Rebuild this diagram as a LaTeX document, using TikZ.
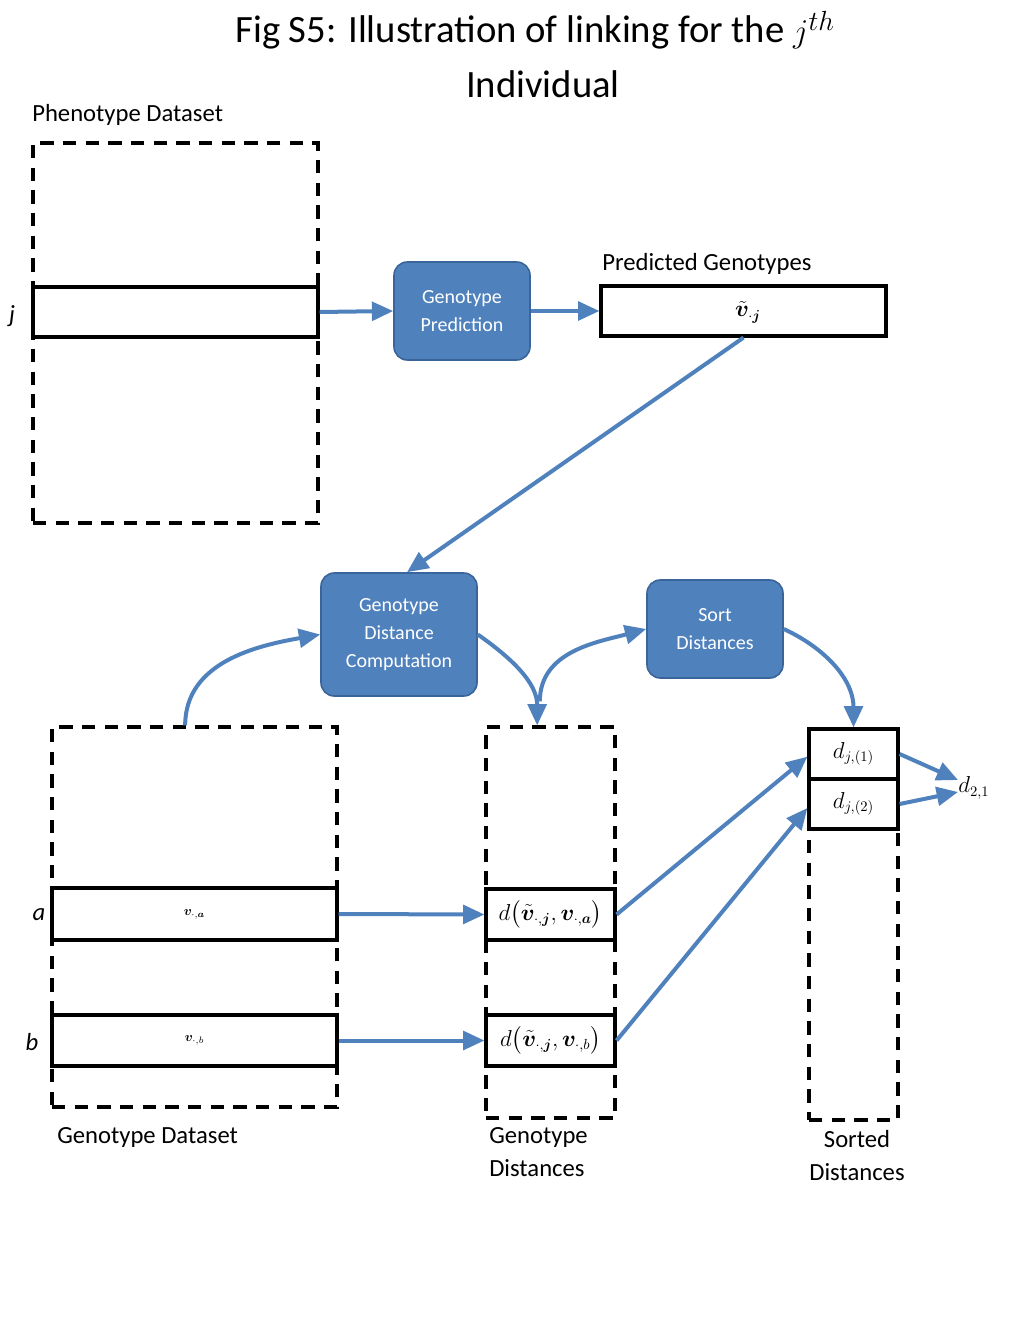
\documentclass[tikz,border=0pt]{standalone}
\usepackage{amsmath,bm}
\usepackage{fontspec}
\setmainfont{Carlito}
\usetikzlibrary{arrows.meta}
\definecolor{bl}{HTML}{4F81BD}
\definecolor{bld}{HTML}{3A659A}
\tikzset{
 bx/.style 2 args={draw, line width=2.4pt, minimum width=#1*0.75pt, minimum height=#2*0.75pt, inner sep=0pt},
 dbx/.style 2 args={draw, line width=2.4pt, dash pattern=on 10pt off 7pt, minimum width=#1*0.75pt, minimum height=#2*0.75pt, inner sep=0pt},
 proc/.style 2 args={draw=bld, line width=1.2pt, fill=bl, rounded corners=10pt, text=white, align=center, font=\fontsize{15}{21}\selectfont, minimum width=#1*0.75pt, minimum height=#2*0.75pt, inner sep=0pt},
 lab/.style={font=\fontsize{18.5}{25}\selectfont, inner sep=0pt},
 mth/.style={font=\fontsize{16}{20}\selectfont, inner sep=0pt},
 ar/.style={draw=bl, line width=3pt, -{Triangle[length=16pt,width=14pt]}},
}
\begin{document}
\begin{tikzpicture}[x=0.75pt,y=-0.75pt]
\useasboundingbox (0,0) rectangle (1024,1344);
\node[font=\fontsize{29}{36}\selectfont, inner sep=0pt] (t1) at (535,30) {Fig S5: Illustration of linking for the $j^{th}$};
\node[font=\fontsize{29}{36}\selectfont, inner sep=0pt] (t2) at (543,84) {Individual};
\node[lab, anchor=west] (phl) at (32,115) {Phenotype Dataset};
\node[dbx={285}{380}] (ph) at (175.5,333) {};
\node[bx={285}{50}] (rowj) at (175.5,312) {};
\node[lab] (jl) at (12,316) {\itshape j};
\node[proc={136}{98}] (gp) at (462,311) {Genotype\\Prediction};
\node[lab, anchor=west] (pgl) at (602,264) {Predicted Genotypes};
\node[bx={285}{50}] (pred) at (743.5,311) {};
\node[mth] (predt) at (748,312) {$\tilde{\bm v}_{\cdot\bm j}$};
\node[proc={156}{123}] (gdc) at (399,634.5) {Genotype\\Distance\\Computation};
\node[proc={136}{98}] (sort) at (715,629) {Sort\\Distances};
\node[dbx={285}{380}] (geno) at (194.5,917) {};
\node[bx={285}{52}] (ra) at (194.5,914) {$\bm v_{\cdot,\bm a}$};
\node[bx={285}{51}] (rb) at (194.5,1040.5) {$\bm v_{\cdot,b}$};
\node[lab] (al) at (39,915) {\itshape a};
\node[lab] (bl) at (32,1042) {\itshape b};
\node[lab, anchor=west] (gdl) at (57,1137) {Genotype Dataset};
\node[dbx={129}{391}] (dist) at (550.5,922.5) {};
\node[bx={129}{51}, mth] (da) at (550.5,914.5) {$d\big(\tilde{\bm v}_{\cdot,\bm j},\bm v_{\cdot,\bm a}\big)$};
\node[bx={129}{51}, mth] (db) at (550.5,1040.5) {$d\big(\tilde{\bm v}_{\cdot,\bm j},\bm v_{\cdot,b}\big)$};
\node[lab, anchor=north west, align=left, font=\fontsize{18.5}{25}\selectfont] (gdist) at (489,1127) {Genotype\\Distances};
\node[dbx={89}{391}] (sd) at (853.5,924.5) {};
\node[bx={89}{50}, mth, fill=white] (s1) at (853.5,754) {$d_{j,(1)}$};
\node[bx={89}{50}, mth, fill=white] (s2) at (853.5,804) {$d_{j,(2)}$};
\node[lab, align=center, anchor=north] (sdl) at (857,1130) {Sorted\\Distances};
\node[mth, anchor=west] (d21) at (958,788) {$d_{2,1}$};
\draw[ar] (rowj.east) -- (gp.west);
\draw[ar] (gp.east) -- (pred.west);
\draw[ar] (pred.south) -- ([xshift=6pt]gdc.north);
\draw[ar] ([xshift=-7pt]geno.north) to[out=90,in=190] (gdc.west);
\draw[ar] (gdc.east) to[out=-35,in=90] ([xshift=-10pt]dist.north);
\draw[ar] ([xshift=-8pt,yshift=18pt]dist.north) to[out=90,in=195] (sort.west);
\draw[ar] (sort.east) to[out=-25,in=90] (s1.north);
\draw[ar] (ra.east) -- (da.west);
\draw[ar] (rb.east) -- (db.west);
\draw[ar] (da.east) -- ([yshift=-2pt]s1.west);
\draw[ar] (db.east) -- ([yshift=-3pt]s2.west);
\draw[ar] (s1.east) -- ([yshift=6pt]d21.west);
\draw[ar] (s2.east) -- ([yshift=-3pt]d21.west);
\end{tikzpicture}
\end{document}
